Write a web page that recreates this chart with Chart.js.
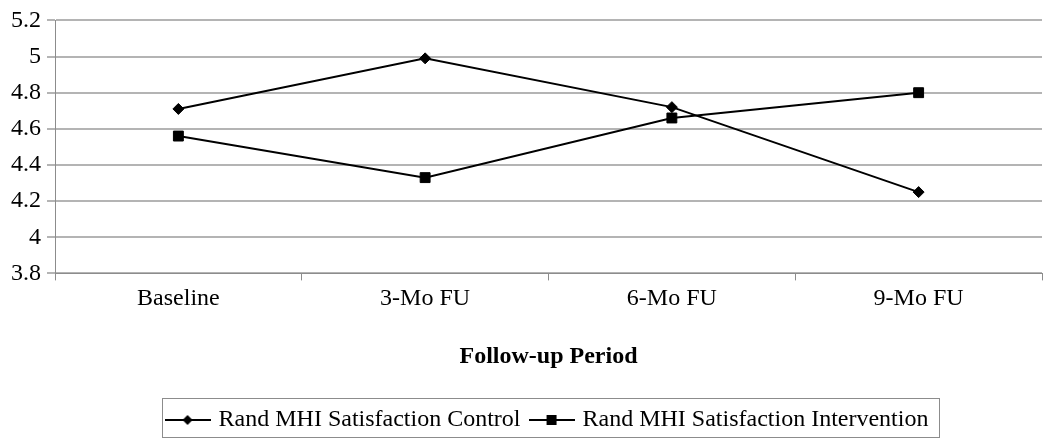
<!DOCTYPE html>
<html>
<head>
<meta charset="utf-8">
<script src="https://cdn.jsdelivr.net/npm/chart.js@4.4.0/dist/chart.umd.min.js"></script>
<style>
  html, body { margin: 0; padding: 0; background: #fff; }
  #wrap { width: 1050px; height: 443px; }
</style>
</head>
<body>
<div id="wrap"><canvas id="mhiChart"></canvas></div>
<script>
// values
var periods = ["Baseline", "3-Mo FU", "6-Mo FU", "9-Mo FU"];
var controlScores = [4.71, 4.99, 4.72, 4.25];
var interventionScores = [4.56, 4.33, 4.66, 4.80];
var yTicks = [3.8, 4, 4.2, 4.4, 4.6, 4.8, 5, 5.2];

var serif = "'Liberation Serif', 'Times New Roman', serif";

// legend swatch: line with the marker in the middle
function makeSwatch(shape) {
  var c = document.createElement("canvas");
  c.width = 46; c.height = 14;
  var ctx = c.getContext("2d");
  ctx.strokeStyle = "#000";
  ctx.lineWidth = 2;
  ctx.beginPath();
  ctx.moveTo(0, 7); ctx.lineTo(46, 7);
  ctx.stroke();
  ctx.fillStyle = "#000";
  if (shape == "diamond") {
    ctx.beginPath();
    ctx.moveTo(23, 2); ctx.lineTo(28, 7); ctx.lineTo(23, 12); ctx.lineTo(18, 7);
    ctx.closePath();
    ctx.fill();
  } else {
    ctx.fillRect(18, 2, 10, 10);
  }
  return c;
}

var legendBox = {
  id: "legendBox",
  afterLayout: function (chart) {
    // center the legend under the plot area, like the original
    var lg = chart.legend;
    var shift = (chart.chartArea.left + chart.chartArea.right) / 2 - (lg.left + lg.right) / 2;
    lg.left += shift;
    lg.right += shift;
  },
  afterDraw: function (chart) {
    var ctx = chart.ctx;
    ctx.save();
    ctx.strokeStyle = "#8c8c8c";
    ctx.lineWidth = 1;
    ctx.strokeRect(162.5, 398.5, 777, 39);
    ctx.restore();
  }
};

var mhiChart = new Chart(document.getElementById("mhiChart"), {
  type: "line",
  data: {
    labels: periods,
    datasets: [{
      label: "Rand MHI Satisfaction Control",
      data: controlScores,
      borderColor: "#000",
      backgroundColor: "#000",
      borderWidth: 2,
      pointStyle: "rectRot",
      pointRadius: 5.5,
      pointBorderWidth: 1,
      pointHoverRadius: 5.5,
      tension: 0
    }, {
      label: "Rand MHI Satisfaction Intervention",
      data: interventionScores,
      borderColor: "#000",
      backgroundColor: "#000",
      borderWidth: 2,
      pointStyle: "rect",
      pointRadius: 7,
      pointBorderWidth: 1,
      pointHoverRadius: 7,
      tension: 0
    }]
  },
  options: {
    responsive: true,
    maintainAspectRatio: false,
    animation: false,
    layout: { padding: { left: 5, right: 6, top: 4, bottom: 1 } },
    plugins: {
      tooltip: { enabled: false },
      legend: {
        position: "bottom",
        labels: {
          usePointStyle: true,
          pointStyleWidth: 38,
          color: "#000",
          font: { family: serif, size: 24 },
          padding: 12,
          generateLabels: function (chart) {
            return chart.data.datasets.map(function (ds, i) {
              return {
                text: ds.label,
                pointStyle: makeSwatch(i == 0 ? "diamond" : "square"),
                fillStyle: "#000",
                strokeStyle: "#000",
                lineWidth: 0,
                datasetIndex: i,
                fontColor: "#000"
              };
            });
          }
        }
      }
    },
    scales: {
      x: {
        offset: true,
        grid: {
          offset: true,
          drawOnChartArea: false,
          drawTicks: true,
          tickLength: 7,
          color: "#8c8c8c"
        },
        border: { color: "#8c8c8c", width: 1 },
        ticks: { color: "#000", font: { family: serif, size: 24 }, padding: 4 },
        title: {
          display: true,
          text: "Follow-up Period",
          color: "#000",
          font: { family: serif, size: 24, weight: "bold" },
          padding: { top: 25, bottom: 25 }
        }
      },
      y: {
        min: 3.8,
        max: 5.2,
        afterBuildTicks: function (axis) {
          axis.ticks = yTicks.map(function (v) { return { value: v }; });
        },
        grid: { color: "#b4b4b4", lineWidth: 2, tickLength: 8 },
        border: { color: "#8c8c8c", width: 1 },
        ticks: {
          color: "#000",
          font: { family: serif, size: 24 },
          padding: 6,
          callback: function (v) { return String(Math.round(v * 10) / 10); }
        }
      }
    }
  },
  plugins: [legendBox]
});
</script>
</body>
</html>
